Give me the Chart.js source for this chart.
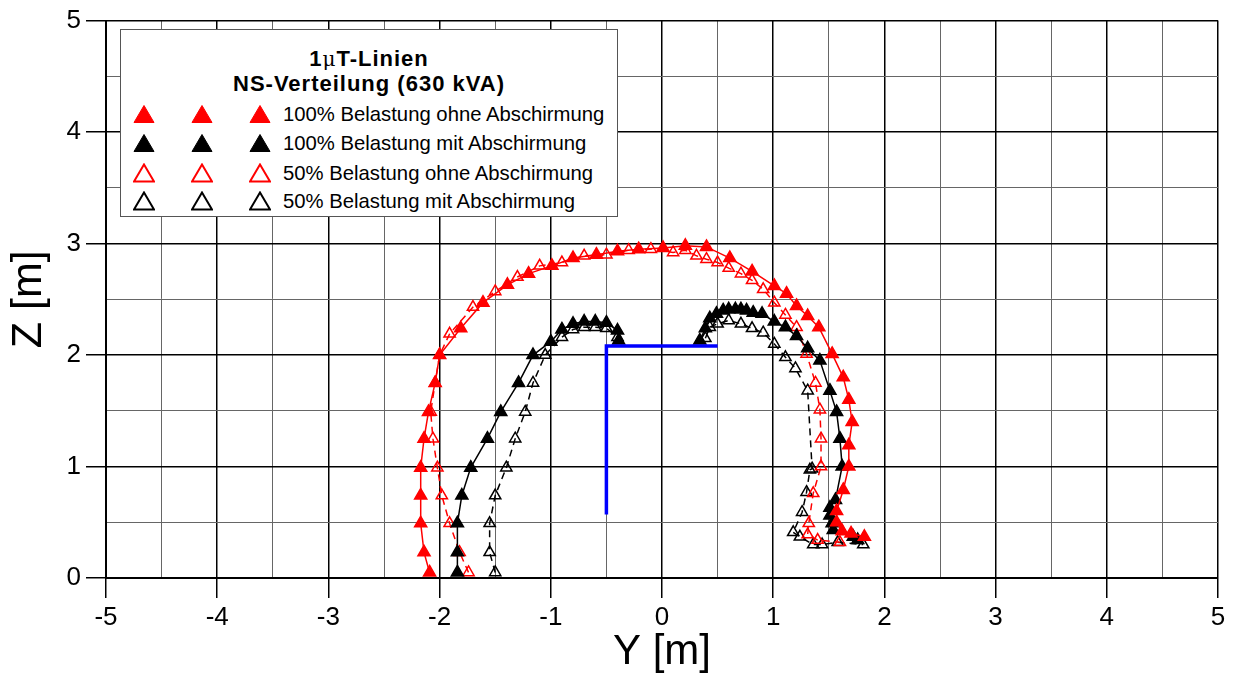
<!DOCTYPE html>
<html>
<head>
<meta charset="utf-8">
<script src="https://cdn.jsdelivr.net/npm/chart.js@4"></script>
<style>
  html, body { margin: 0; padding: 0; background: #fff; }
  #wrap { position: relative; width: 1234px; height: 678px; }
  #legend {
    position: absolute; left: 120px; top: 29px; width: 496px; height: 186px;
    background: #fff; border: 1px solid #555; font-family: 'Liberation Sans', Arial, sans-serif;
  }
  #legend .ttl { position: absolute; left: 0; width: 100%; text-align: center; font-weight: bold;
    font-size: 22px; letter-spacing: 1px; line-height: 24px; color: #000; }
  #legend .row { position: absolute; left: 0; height: 26px; width: 100%; }
  #legend svg { position: absolute; top: 3px; }
  #legend .lbl { position: absolute; left: 162px; top: 0; font-size: 20.3px; line-height: 26px; color: #000; }
</style>
</head>
<body>
<div id="wrap">
  <canvas id="chart" width="1234" height="678"></canvas>
  <div id="legend"></div>
</div>
<script>
// ---------- Data (Y / Z in metres) ----------
const seriesLabels = [
    '100% Belastung ohne Abschirmung',
    '100% Belastung mit Abschirmung',
    '50% Belastung ohne Abschirmung',
    '50% Belastung mit Abschirmung'
];

// 100% ohne Abschirmung (red, filled)
const full_open_Y = [-2.09, -2.14, -2.17, -2.17, -2.17, -2.14, -2.10, -2.04, -2.00, -1.81, -1.61, -1.39, -1.20, -0.99, -0.80, -0.59, -0.40, -0.21, 0.01, 0.21, 0.40, 0.61, 0.81, 1.01, 1.12, 1.21, 1.31, 1.41, 1.53, 1.63, 1.68, 1.71, 1.68, 1.68, 1.63, 1.57, 1.57, 1.62, 1.70, 1.82];
const full_open_Z = [0.05, 0.23, 0.49, 0.74, 0.99, 1.25, 1.49, 1.75, 2.00, 2.24, 2.47, 2.63, 2.73, 2.80, 2.87, 2.90, 2.93, 2.95, 2.96, 2.98, 2.97, 2.87, 2.75, 2.62, 2.55, 2.44, 2.35, 2.25, 2.01, 1.80, 1.60, 1.40, 1.19, 1.00, 0.79, 0.60, 0.50, 0.42, 0.40, 0.37];

// 100% mit Abschirmung (black, filled) - null = gap at the cable bracket
const full_shield_Y = [-1.84, -1.84, -1.84, -1.80, -1.72, -1.57, -1.45, -1.29, -1.16, -1.00, -0.90, -0.80, -0.70, -0.60, -0.50, -0.40, -0.39, null, 0.34, 0.39, 0.43, 0.49, 0.55, 0.60, 0.66, 0.71, 0.76, 0.82, 0.90, 1.01, 1.11, 1.21, 1.31, 1.42, 1.51, 1.57, 1.60, 1.62, 1.56, 1.51, 1.51, 1.53, 1.54, 1.72, 1.76];
const full_shield_Z = [0.05, 0.23, 0.49, 0.74, 0.99, 1.25, 1.49, 1.75, 2.00, 2.12, 2.23, 2.28, 2.30, 2.30, 2.29, 2.22, 2.13, null, 2.13, 2.24, 2.33, 2.37, 2.40, 2.41, 2.41, 2.41, 2.40, 2.38, 2.37, 2.30, 2.25, 2.17, 2.06, 1.95, 1.68, 1.49, 1.25, 1.00, 0.70, 0.63, 0.56, 0.49, 0.43, 0.37, 0.34];

// 50% ohne Abschirmung (red, open, dashed)
const half_open_Y = [-1.74, -1.82, -1.91, -1.98, -2.02, -2.06, -2.08, -2.04, -2.00, -1.91, -1.70, -1.50, -1.30, -1.10, -0.90, -0.70, -0.50, -0.30, -0.10, 0.10, 0.21, 0.31, 0.40, 0.50, 0.60, 0.71, 0.81, 0.91, 1.01, 1.11, 1.21, 1.30, 1.38, 1.42, 1.43, 1.43, 1.36, 1.32, 1.31, 1.40, 1.60];
const half_open_Z = [0.05, 0.23, 0.49, 0.74, 0.99, 1.25, 1.49, 1.75, 2.00, 2.19, 2.43, 2.57, 2.70, 2.80, 2.83, 2.89, 2.90, 2.94, 2.95, 2.92, 2.94, 2.89, 2.86, 2.83, 2.78, 2.73, 2.67, 2.59, 2.47, 2.36, 2.25, 2.01, 1.75, 1.51, 1.25, 1.00, 0.76, 0.49, 0.39, 0.34, 0.32];

// 50% mit Abschirmung (black, open, dashed)
const half_shield_Y = [-1.50, -1.55, -1.55, -1.50, -1.40, -1.32, -1.23, -1.16, -1.05, -0.90, -0.80, -0.70, -0.60, -0.50, -0.40, null, 0.39, 0.43, 0.50, 0.60, 0.71, 0.81, 0.91, 1.01, 1.11, 1.20, 1.31, 1.35, 1.33, 1.30, 1.26, 1.18, 1.24, 1.36, 1.44, 1.58, 1.81];
const half_shield_Z = [0.05, 0.23, 0.49, 0.74, 0.99, 1.25, 1.49, 1.75, 2.00, 2.16, 2.23, 2.25, 2.25, 2.24, 2.16, null, 2.15, 2.25, 2.28, 2.31, 2.28, 2.24, 2.20, 2.10, 1.98, 1.88, 1.68, 0.98, 0.97, 0.77, 0.59, 0.41, 0.37, 0.30, 0.30, 0.32, 0.30];

// NS-Verteilung bracket (blue)
const bracket_Y = [-0.50, -0.50, 0.50];
const bracket_Z = [0.57, 2.08, 2.08];

const xTicksMin = -5, xTicksMax = 5;
const yTicksMin = 0, yTicksMax = 5;

// ---------- Helpers ----------
function pts(xs, ys) {
    return xs.map((x, i) => (x == null ? { x: NaN, y: NaN } : { x: x, y: ys[i] }));
}
const isMajor = v => Math.abs(v - Math.round(v)) < 1e-6;
const FONT = "'Liberation Sans', Arial, sans-serif";

function seriesDs(label, xs, ys, color, filled, dashed) {
    return {
        label: label,
        data: pts(xs, ys),
        showLine: true,
        spanGaps: false,
        borderColor: color,
        borderWidth: 1.5,
        borderDash: dashed ? [7, 5] : [],
        backgroundColor: color,
        pointStyle: 'triangle',
        pointRadius: filled ? 7 : 6.5,
        pointBorderWidth: 1.5,
        pointBorderColor: color,
        pointBackgroundColor: filled ? color : 'rgba(255,255,255,0)',
        tension: 0
    };
}

const gridOpts = {
    color: c => isMajor(c.tick.value) ? '#000' : '#666',
    lineWidth: c => isMajor(c.tick.value) ? 1.5 : 1,
    tickColor: c => isMajor(c.tick.value) ? '#000' : 'rgba(0,0,0,0)',
    tickLength: 20,
    drawTicks: true
};

// ---------- Chart ----------
new Chart(document.getElementById('chart'), {
    type: 'scatter',
    data: {
        datasets: [
            { label: 'bracket', data: pts(bracket_Y, bracket_Z), showLine: true, borderColor: '#0000ff', borderWidth: 3.5, pointRadius: 0, borderCapStyle: 'butt' },
            seriesDs(seriesLabels[0], full_open_Y, full_open_Z, '#ff0000', true, false),
            seriesDs(seriesLabels[1], full_shield_Y, full_shield_Z, '#000000', true, false),
            seriesDs(seriesLabels[2], half_open_Y, half_open_Z, '#ff0000', false, true),
            seriesDs(seriesLabels[3], half_shield_Y, half_shield_Z, '#000000', false, true)
        ]
    },
    options: {
        responsive: false,
        animation: false,
        devicePixelRatio: 1,
        layout: { padding: { top: 20, right: 16, left: 0, bottom: 0 } },
        plugins: { legend: { display: false }, tooltip: { enabled: false } },
        scales: {
            x: {
                type: 'linear', min: xTicksMin, max: xTicksMax,
                afterFit: s => { s.height = 100; },
                ticks: {
                    stepSize: 0.5, autoSkip: false, maxRotation: 0, padding: 4, color: '#000',
                    font: { family: FONT, size: 26 },
                    callback: v => isMajor(v) ? String(Math.round(v)) : ''
                },
                grid: gridOpts,
                border: { display: true, color: '#000', width: 2 },
                title: { display: true, text: 'Y [m]', color: '#000', font: { family: FONT, size: 42 }, padding: { top: 0, bottom: 0 } }
            },
            y: {
                type: 'linear', min: yTicksMin, max: yTicksMax,
                afterFit: s => { s.width = 106; },
                ticks: {
                    stepSize: 0.5, autoSkip: false, padding: 5, color: '#000',
                    font: { family: FONT, size: 26 },
                    callback: v => isMajor(v) ? String(Math.round(v)) : ''
                },
                grid: gridOpts,
                border: { display: true, color: '#000', width: 2 },
                title: { display: true, text: 'Z [m]', color: '#000', font: { family: FONT, size: 43 }, padding: { top: 3, bottom: 0 } }
            }
        }
    }
});

// ---------- Legend ----------
const legendColors = ['#ff0000', '#000000', '#ff0000', '#000000'];
const legendFilled = [true, true, false, false];
const legendRowTop = [71, 100, 130, 158];
const legendMarkX = [12, 70, 128];

(function buildLegend() {
    const lg = document.getElementById('legend');
    lg.insertAdjacentHTML('beforeend', `<div class="ttl" style="top:17px">1<span style="font-weight:normal;font-family:'DejaVu Serif',serif;font-size:20px">μ</span>T-Linien</div>`);
    lg.insertAdjacentHTML('beforeend', `<div class="ttl" style="top:42px">NS-Verteilung (630 kVA)</div>`);
    seriesLabels.forEach((lab, i) => {
        const c = legendColors[i];
        const fill = legendFilled[i] ? c : 'none';
        const sw = legendFilled[i] ? 1 : 2;
        const tri = `<polygon points="11,1.5 21,18.5 1,18.5" fill="${fill}" stroke="${c}" stroke-width="${sw}"/>`;
        let html = `<div class="row" style="top:${legendRowTop[i]}px">`;
        legendMarkX.forEach(x => { html += `<svg width="22" height="20" style="left:${x}px">${tri}</svg>`; });
        html += `<div class="lbl">${lab}</div></div>`;
        lg.insertAdjacentHTML('beforeend', html);
    });
})();
</script>
</body>
</html>
